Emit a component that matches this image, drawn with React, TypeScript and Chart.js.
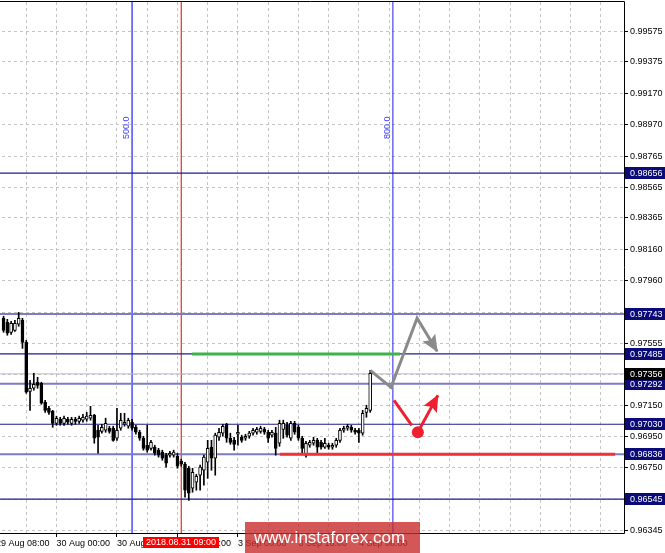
import React, { useEffect, useRef } from "react";
import { Chart, registerables } from "chart.js";

Chart.register(...registerables);

// ---- data (hourly bars, index 0 = 29 Aug 08:00) ----
const FIRST_BAR = 2;
const opens = [
  0.97716, 0.9769, 0.97625, 0.97638, 0.97677, 0.97703, 0.9756, 0.97243, 0.97263, 0.97302,
  0.97295, 0.97172, 0.97133, 0.97114, 0.97036, 0.97062, 0.97036, 0.97062, 0.97036, 0.97062,
  0.97049, 0.97056, 0.97062, 0.97069, 0.97088, 0.96991, 0.96984, 0.96991, 0.97004, 0.97004,
  0.96939, 0.97004, 0.9703, 0.97017, 0.97043, 0.9701, 0.96978, 0.96939, 0.96894, 0.96874,
  0.96881, 0.96862, 0.96849, 0.9683, 0.9683, 0.9683, 0.96823, 0.96791, 0.96771, 0.96745,
  0.96616, 0.96655, 0.967, 0.96732, 0.96784, 0.96881, 0.9681, 0.96946, 0.96972, 0.9703,
  0.96939, 0.96926, 0.96965, 0.96946, 0.96939, 0.96952, 0.96972, 0.96978, 0.96984, 0.96997,
  0.96978, 0.96959, 0.96972, 0.96907, 0.96997, 0.97023, 0.96939, 0.97036, 0.9701, 0.96939,
  0.9683, 0.96894, 0.96907, 0.96926, 0.96913, 0.96881, 0.96894, 0.96881, 0.96894, 0.96926,
  0.96991, 0.97004, 0.9701, 0.96991, 0.96991, 0.96972, 0.97107, 0.9712,
];
const highs = [
  0.97729, 0.97709, 0.97696, 0.97703, 0.97754, 0.97716, 0.97573, 0.97314, 0.9736, 0.97334,
  0.97302, 0.97185, 0.97146, 0.9712, 0.97082, 0.97075, 0.97082, 0.97075, 0.97075, 0.97075,
  0.97082, 0.97094, 0.97107, 0.97146, 0.97094, 0.97023, 0.9703, 0.97069, 0.97017, 0.97017,
  0.97133, 0.97101, 0.97101, 0.97069, 0.97062, 0.97023, 0.96991, 0.96952, 0.97023, 0.96926,
  0.96894, 0.96874, 0.96862, 0.96842, 0.96855, 0.96862, 0.96842, 0.96804, 0.96784, 0.96758,
  0.96745, 0.96706, 0.96765, 0.9683, 0.96926, 0.96926, 0.96972, 0.97004, 0.9703, 0.97036,
  0.96972, 0.96946, 0.97023, 0.96959, 0.96965, 0.96984, 0.97004, 0.9701, 0.97017, 0.9701,
  0.96991, 0.96991, 0.9701, 0.97056, 0.97056, 0.97043, 0.97049, 0.97049, 0.97023, 0.96952,
  0.9692, 0.96926, 0.96946, 0.96939, 0.96926, 0.96939, 0.96907, 0.96907, 0.96939, 0.97004,
  0.97017, 0.9703, 0.97023, 0.97004, 0.97004, 0.9712, 0.97153, 0.97379,
];
const lows = [
  0.97625, 0.97606, 0.97612, 0.97631, 0.97664, 0.97521, 0.9723, 0.9712, 0.9725, 0.97263,
  0.97159, 0.97107, 0.97094, 0.9701, 0.97023, 0.97023, 0.97023, 0.9703, 0.97023, 0.9703,
  0.97036, 0.97043, 0.97049, 0.97056, 0.96907, 0.96842, 0.96972, 0.96978, 0.96972, 0.9692,
  0.96926, 0.96991, 0.97017, 0.97004, 0.96991, 0.96965, 0.96926, 0.96862, 0.96849, 0.96862,
  0.9683, 0.96817, 0.96797, 0.96752, 0.96817, 0.96817, 0.96745, 0.96758, 0.96558, 0.96537,
  0.9659, 0.96603, 0.96603, 0.96635, 0.9668, 0.96732, 0.967, 0.96926, 0.96952, 0.96913,
  0.969, 0.96862, 0.96894, 0.96913, 0.96926, 0.96939, 0.96959, 0.96965, 0.96972, 0.96965,
  0.96913, 0.96946, 0.9683, 0.96887, 0.96939, 0.96946, 0.96926, 0.96965, 0.96926, 0.96836,
  0.96817, 0.96881, 0.96894, 0.96842, 0.96868, 0.96874, 0.96868, 0.96868, 0.96881, 0.96913,
  0.96978, 0.96991, 0.96978, 0.96965, 0.96913, 0.96959, 0.97075, 0.97107,
];
const closes = [
  0.97638, 0.97619, 0.97683, 0.97683, 0.97716, 0.9756, 0.97237, 0.97263, 0.97289, 0.97282,
  0.97166, 0.9712, 0.97107, 0.97036, 0.97069, 0.97036, 0.97069, 0.97043, 0.97062, 0.97049,
  0.97069, 0.97075, 0.97082, 0.97088, 0.96939, 0.96946, 0.9701, 0.97036, 0.96984, 0.96926,
  0.96991, 0.97056, 0.97043, 0.97056, 0.97004, 0.96978, 0.96939, 0.96874, 0.96862, 0.96913,
  0.96842, 0.9683, 0.9681, 0.96778, 0.96842, 0.96849, 0.96758, 0.96771, 0.96603, 0.96584,
  0.96719, 0.96693, 0.96752, 0.96817, 0.96874, 0.9681, 0.96959, 0.96978, 0.97017, 0.96939,
  0.96913, 0.969, 0.96978, 0.96926, 0.96952, 0.96972, 0.96991, 0.96997, 0.97004, 0.96978,
  0.96939, 0.96978, 0.96874, 0.97036, 0.97036, 0.96959, 0.97036, 0.96978, 0.96939, 0.96874,
  0.96907, 0.96913, 0.96926, 0.96881, 0.96881, 0.96907, 0.96881, 0.96894, 0.96926, 0.96991,
  0.97004, 0.97017, 0.96991, 0.96978, 0.96972, 0.97101, 0.97133, 0.9736,
];

const xTickIndex = [0, 16, 32, 48, 64, 80, 96];
const xTickText = ["29 Aug 08:00", "30 Aug 00:00", "30 Aug 16:00", "31 Aug 08:00", "3 Sep 00:00", "3 Sep 16:00", "4 Sep 08:00"];
const yTickValues = [
  0.99575, 0.99375, 0.9917, 0.9897, 0.98765, 0.98565, 0.98365, 0.9816, 0.9796, 0.97755, 0.97555,
  0.9735, 0.9715, 0.9695, 0.9675, 0.96545, 0.96345,
];

const levelValues = [0.98656, 0.97743, 0.97485, 0.97292, 0.9703, 0.96836, 0.96545];
const levelIsLight = [false, true, false, true, false, true, false];
const bidPrice = 0.97356;

const vLineIndex = [36, 49, 105];
const vLineText = ["500.0", "", "800.0"];
const timeLabelText = "2018.08.31 09:00";

const greenLineX = [51.9, 106.9];
const greenLineY = [0.97485, 0.97485];
const redLevelX = [75.1, 163.8];
const redLevelY = [0.96836, 0.96836];
const grayPathX = [99.0, 104.5, 111.4, 116.7];
const grayPathY = [0.97379, 0.97269, 0.97716, 0.97502];
const redPathX = [105.3, 110.0];
const redPathY = [0.97185, 0.97023];
const redArrowX = [111.6, 116.9];
const redArrowY = [0.96978, 0.97217];
const redDot = { x: 111.6, y: 0.96978 };

// ---- layout / style constants ----
const X_MIN = 0;
const X_MAX = 628 / 3.78;
const Y_MIN = 0.96326;
const Y_MAX = 0.99763;
const FONT = '"Liberation Sans", Arial, sans-serif';
const GRAY = "#8a8a8a";
const RED = "#ee2030";

function pts(xs: number[], ys: number[]) {
  return xs.map((x, k) => ({ x, y: ys[k] }));
}

function drawHead(ctx: CanvasRenderingContext2D, x1: number, y1: number, x2: number, y2: number, color: string) {
  const ang = Math.atan2(y2 - y1, x2 - x1);
  ctx.save();
  ctx.translate(x2, y2);
  ctx.rotate(ang);
  ctx.fillStyle = color;
  ctx.beginPath();
  ctx.moveTo(1, 0);
  ctx.lineTo(-16, -7.5);
  ctx.lineTo(-13, 0);
  ctx.lineTo(-16, 7.5);
  ctx.closePath();
  ctx.fill();
  ctx.restore();
}

const overlay = {
  id: "mt4overlay",
  afterDatasetsDraw(chart: any) {
    const { ctx, scales } = chart;
    const x = scales.x;
    const y = scales.y;
    const n = grayPathX.length;
    drawHead(
      ctx,
      x.getPixelForValue(grayPathX[n - 2]),
      y.getPixelForValue(grayPathY[n - 2]),
      x.getPixelForValue(grayPathX[n - 1]),
      y.getPixelForValue(grayPathY[n - 1]),
      GRAY
    );
    drawHead(
      ctx,
      x.getPixelForValue(redArrowX[0]),
      y.getPixelForValue(redArrowY[0]),
      x.getPixelForValue(redArrowX[1]),
      y.getPixelForValue(redArrowY[1]),
      RED
    );
  },
  afterDraw(chart: any) {
    const { ctx, chartArea: a, scales, width } = chart;
    const x = scales.x;
    const y = scales.y;
    ctx.save();
    // frame
    ctx.strokeStyle = "#000";
    ctx.lineWidth = 1;
    ctx.beginPath();
    ctx.moveTo(a.left, a.top - 0.5);
    ctx.lineTo(a.right + 0.5, a.top - 0.5);
    ctx.lineTo(a.right + 0.5, a.bottom + 0.5);
    ctx.lineTo(a.left, a.bottom + 0.5);
    ctx.stroke();

    // price boxes on right axis
    ctx.font = `9px ${FONT}`;
    ctx.textBaseline = "middle";
    ctx.textAlign = "left";
    const box = (v: number, bg: string) => {
      const py = Math.round(y.getPixelForValue(v));
      ctx.fillStyle = bg;
      ctx.fillRect(a.right + 1, py - 6, width - a.right - 1, 12);
      ctx.fillStyle = "#fff";
      ctx.fillText(v.toFixed(5), a.right + 6, py + 0.5);
    };
    levelValues.forEach((v) => box(v, "#0a0a78"));
    box(bidPrice, "#000");

    // vertical line captions
    ctx.fillStyle = "#3c3cff";
    vLineText.forEach((t, k) => {
      if (!t) return;
      const px = x.getPixelForValue(vLineIndex[k]);
      ctx.save();
      ctx.translate(px - 3, 139);
      ctx.rotate(-Math.PI / 2);
      ctx.textAlign = "left";
      ctx.textBaseline = "alphabetic";
      ctx.fillText(t, 0, 0);
      ctx.restore();
    });

    // time label under red line
    const tx = x.getPixelForValue(vLineIndex[1]);
    ctx.fillStyle = "#ff0000";
    ctx.fillRect(Math.round(tx) - 38, 537, 76, 11);
    ctx.fillStyle = "#fff";
    ctx.textAlign = "center";
    ctx.textBaseline = "middle";
    ctx.font = `9px ${FONT}`;
    ctx.fillText(timeLabelText, Math.round(tx), 543);

    // watermark
    ctx.fillStyle = "rgba(200,45,45,0.8)";
    ctx.fillRect(249, 522, 175, 31);
    ctx.fillStyle = "#fff";
    ctx.textAlign = "left";
    ctx.textBaseline = "middle";
    ctx.font = `17px ${FONT}`;
    ctx.fillText("www.instaforex.com", 258, 538);
    ctx.restore();
  },
};

export default function App() {
  const ref = useRef<HTMLCanvasElement>(null);
  useEffect(() => {
    if (!ref.current) return;
    const bodyData = opens.map((o, k) => ({ x: FIRST_BAR + k, y: [o, closes[k]] }));
    const wickData = lows.map((l, k) => ({ x: FIRST_BAR + k, y: [l, highs[k]] }));
    const bodyColors = opens.map((o, k) => (closes[k] > o ? "#ffffff" : "#000000"));

    const lineDs = (data: any[], color: string, w: number, order: number) => ({
      type: "line" as const,
      data,
      borderColor: color,
      borderWidth: w,
      pointRadius: 0,
      fill: false,
      tension: 0,
      order,
    });

    const datasets: any[] = [];
    levelValues.forEach((v, k) => {
      datasets.push(
        lineDs(
          [
            { x: X_MIN, y: v },
            { x: X_MAX, y: v },
          ],
          levelIsLight[k] ? "#7b7bc6" : "#1e1e8c",
          levelIsLight[k] ? 2 : 1.2,
          30
        )
      );
    });
    datasets.push(
      lineDs(
        [
          { x: X_MIN, y: bidPrice },
          { x: X_MAX, y: bidPrice },
        ],
        "#bdbdbd",
        1,
        30
      )
    );
    const vColors = ["#4b4bff", "#e00000", "#2020f0"];
    vLineIndex.forEach((i, k) => {
      datasets.push(
        lineDs(
          [
            { x: i, y: Y_MIN },
            { x: i, y: Y_MAX },
          ],
          vColors[k],
          k === 0 ? 1.5 : 1,
          30
        )
      );
    });
    datasets.push({
      type: "bar",
      data: wickData,
      backgroundColor: "#000",
      barThickness: 1,
      grouped: false,
      borderWidth: 0,
      order: 20,
    });
    datasets.push({
      type: "bar",
      data: bodyData,
      backgroundColor: bodyColors,
      borderColor: "#000",
      borderWidth: 1,
      borderSkipped: false,
      barThickness: 3,
      grouped: false,
      order: 19,
    });
    datasets.push(lineDs(pts(greenLineX, greenLineY), "#3cb44a", 3, 5));
    datasets.push(lineDs(pts(redLevelX, redLevelY), "#f0323c", 3, 5));
    datasets.push(lineDs(pts(grayPathX, grayPathY), GRAY, 3, 4));
    datasets.push(lineDs(pts(redPathX, redPathY), RED, 3, 4));
    datasets.push(lineDs(pts(redArrowX, redArrowY), RED, 3, 4));
    datasets.push({
      type: "line",
      data: [redDot],
      showLine: false,
      pointRadius: 6,
      pointBackgroundColor: RED,
      pointBorderWidth: 0,
      order: 3,
    });

    const chart = new Chart(ref.current, {
      type: "bar",
      data: { datasets },
      options: {
        responsive: false,
        animation: false,
        events: [],
        layout: { autoPadding: false, padding: { top: 2, left: 0, right: 0, bottom: 0 } },
        plugins: { legend: { display: false }, tooltip: { enabled: false } },
        scales: {
          x: {
            type: "linear",
            min: X_MIN,
            max: X_MAX,
            offset: false,
            grid: {
              offset: false,
              color: "#c4c4c4",
              lineWidth: 1,
              tickLength: 4,
              tickColor: (c: any) =>
                c.tick && xTickIndex.includes(c.tick.value) ? "#000" : "rgba(0,0,0,0)",
            },
            border: { display: false, dash: [3, 3] },
            ticks: {
              autoSkip: false,
              maxRotation: 0,
              minRotation: 0,
              align: "start",
              padding: 1,
              color: "#000",
              font: { family: FONT, size: 9 },
              callback: (v: any) => {
                const k = xTickIndex.indexOf(Number(v));
                return k >= 0 ? xTickText[k] : "";
              },
            },
            afterBuildTicks: (s: any) => {
              const t = [];
              for (let v = 0; v <= 160; v += 8) t.push({ value: v });
              s.ticks = t;
            },
            afterFit: (s: any) => {
              s.height = 20;
              s.paddingLeft = 0;
              s.paddingRight = 0;
            },
          },
          y: {
            type: "linear",
            position: "right",
            min: Y_MIN,
            max: Y_MAX,
            beginAtZero: false,
            grid: { color: "#c4c4c4", lineWidth: 1, tickLength: 4, tickColor: "#000" },
            border: { display: false, dash: [3, 3] },
            ticks: {
              padding: 2,
              color: "#000",
              font: { family: FONT, size: 9 },
              callback: (v: any) => Number(v).toFixed(5),
            },
            afterBuildTicks: (s: any) => {
              s.ticks = yTickValues.map((v) => ({ value: v }));
            },
            afterFit: (s: any) => {
              s.width = 41;
              s.paddingTop = 0;
              s.paddingBottom = 0;
            },
          },
        },
      } as any,
      plugins: [overlay],
    });
    return () => chart.destroy();
  }, []);

  return (
    <div style={{ position: "fixed", left: -4, top: 0, width: 669, height: 553, background: "#fff" }}>
      <canvas ref={ref} width={669} height={553} style={{ display: "block", width: 669, height: 553 }} />
    </div>
  );
}
